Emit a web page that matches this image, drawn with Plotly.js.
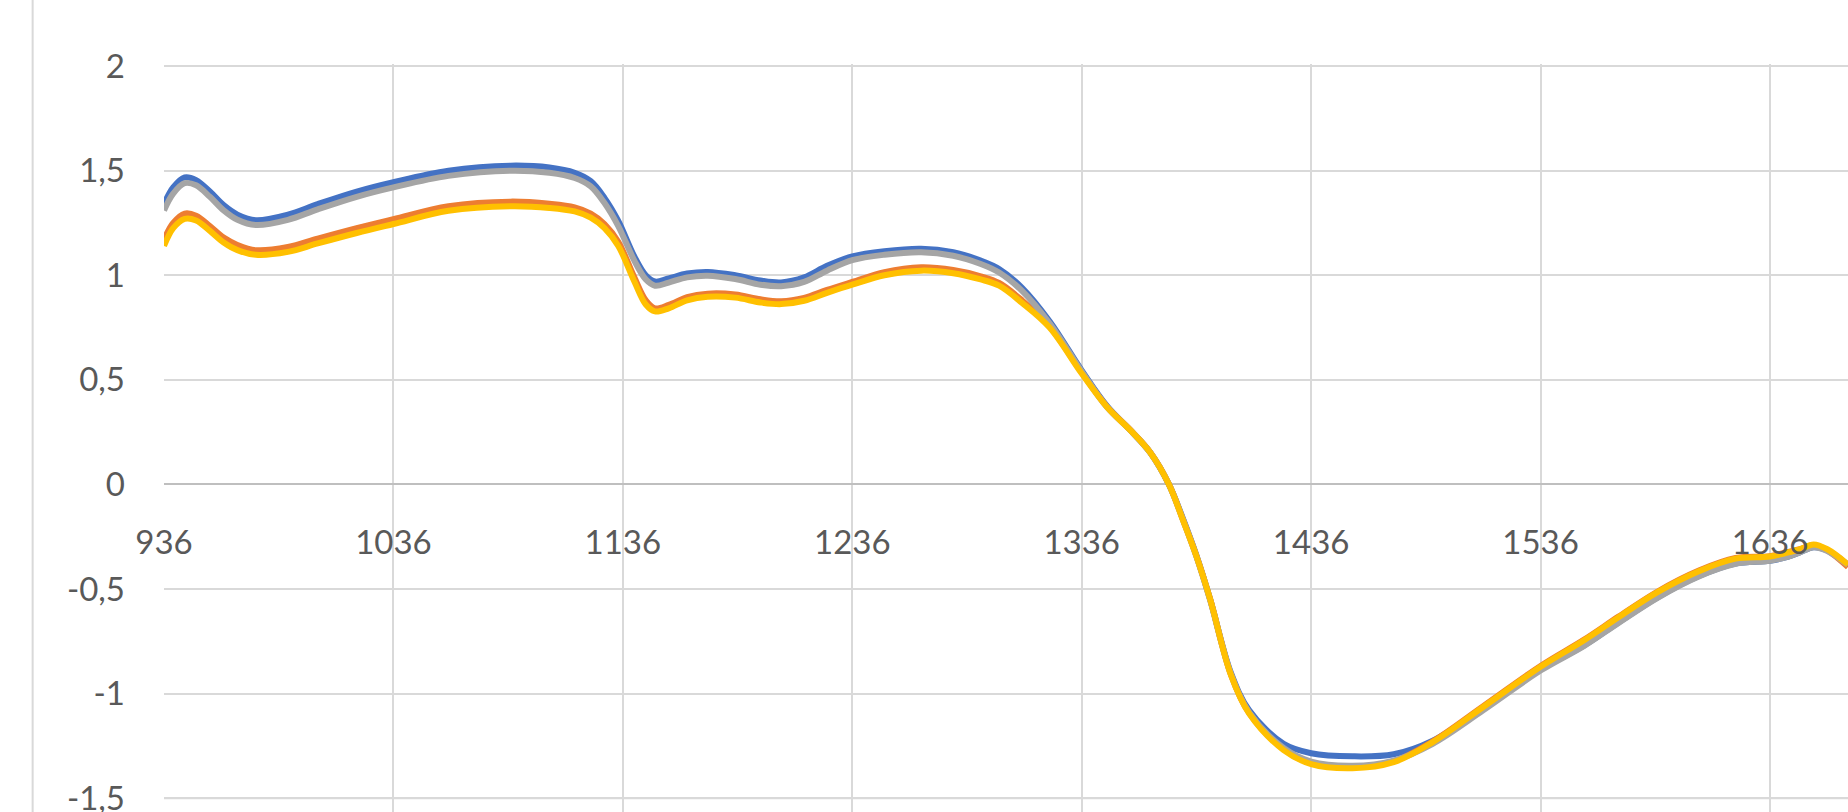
<!DOCTYPE html>
<html>
<head>
<meta charset="utf-8">
<script src="https://cdn.plot.ly/plotly-3.0.1.min.js"></script>
<style>
html,body{margin:0;padding:0;background:#fff;overflow:hidden;width:1848px;height:812px;}
#chart{width:1848px;height:840px;}
</style>
</head>
<body>
<div id="chart"></div>
<script>
const wavelength = [936, 940, 945, 950, 956, 962, 968, 976, 990, 1003, 1020, 1036, 1060, 1087, 1104, 1115, 1122, 1128, 1134, 1141, 1146, 1150, 1156, 1164, 1173, 1185, 1196, 1205, 1215, 1225, 1236, 1250, 1266, 1280, 1292, 1300, 1310, 1322, 1336, 1347, 1358, 1366, 1374, 1380, 1386, 1392, 1401, 1409, 1424, 1436, 1454, 1472, 1489, 1511, 1536, 1555, 1570, 1587, 1605, 1621, 1636, 1644, 1649, 1655, 1661, 1670];

const series1 = [1.34, 1.42, 1.468, 1.455, 1.40, 1.335, 1.29, 1.263, 1.29, 1.34, 1.40, 1.445, 1.50, 1.524, 1.515, 1.49, 1.45, 1.37, 1.26, 1.09, 1.00, 0.97, 0.985, 1.008, 1.016, 1.0, 0.975, 0.966, 0.99, 1.045, 1.09, 1.115, 1.127, 1.11, 1.07, 1.03, 0.94, 0.78, 0.545, 0.375, 0.25, 0.15, 0.0, -0.16, -0.34, -0.55, -0.90, -1.08, -1.24, -1.285, -1.30, -1.29, -1.225, -1.07, -0.885, -0.77, -0.66, -0.54, -0.438, -0.378, -0.365, -0.345, -0.325, -0.30, -0.315, -0.385];

const series2 = [1.17, 1.25, 1.295, 1.285, 1.235, 1.18, 1.145, 1.12, 1.135, 1.175, 1.225, 1.268, 1.33, 1.352, 1.342, 1.325, 1.295, 1.245, 1.16, 0.99, 0.88, 0.842, 0.858, 0.895, 0.912, 0.908, 0.885, 0.876, 0.892, 0.93, 0.968, 1.015, 1.038, 1.025, 0.995, 0.963, 0.88, 0.755, 0.535, 0.372, 0.252, 0.152, 0.002, -0.165, -0.342, -0.55, -0.908, -1.093, -1.265, -1.333, -1.352, -1.323, -1.228, -1.06, -0.868, -0.742, -0.632, -0.512, -0.412, -0.352, -0.343, -0.323, -0.31, -0.29, -0.315, -0.395];

const series3 = [1.31, 1.39, 1.44, 1.43, 1.375, 1.31, 1.265, 1.24, 1.265, 1.315, 1.375, 1.42, 1.475, 1.50, 1.49, 1.465, 1.425, 1.345, 1.235, 1.07, 0.98, 0.95, 0.965, 0.99, 0.998, 0.982, 0.955, 0.948, 0.968, 1.022, 1.072, 1.098, 1.11, 1.093, 1.054, 1.013, 0.925, 0.77, 0.54, 0.37, 0.25, 0.15, 0.0, -0.165, -0.345, -0.555, -0.905, -1.09, -1.26, -1.325, -1.345, -1.32, -1.24, -1.08, -0.89, -0.772, -0.662, -0.542, -0.44, -0.38, -0.365, -0.345, -0.325, -0.30, -0.318, -0.385];

const series4 = [1.14, 1.225, 1.27, 1.262, 1.212, 1.157, 1.12, 1.098, 1.112, 1.152, 1.202, 1.245, 1.308, 1.33, 1.322, 1.305, 1.275, 1.225, 1.14, 0.97, 0.86, 0.827, 0.842, 0.88, 0.897, 0.893, 0.87, 0.862, 0.878, 0.916, 0.955, 1.0, 1.022, 1.01, 0.98, 0.95, 0.868, 0.75, 0.53, 0.37, 0.25, 0.15, 0.0, -0.167, -0.343, -0.55, -0.91, -1.096, -1.27, -1.337, -1.357, -1.328, -1.232, -1.064, -0.872, -0.745, -0.635, -0.515, -0.415, -0.355, -0.345, -0.325, -0.311, -0.287, -0.31, -0.383];

const seriesNames = ['Series1', 'Series2', 'Series3', 'Series4'];
const xTickVals = [936, 1036, 1136, 1236, 1336, 1436, 1536, 1636];
const xTickText = ['936', '1036', '1136', '1236', '1336', '1436', '1536', '1636'];
const yTickVals = [2, 1.5, 1, 0.5, 0, -0.5, -1, -1.5];
const yTickText = ['2', '1,5', '1', '0,5', '0', '-0,5', '-1', '-1,5'];

const colors = ['#4472C4', '#ED7D31', '#A5A5A5', '#FFC000'];
const allSeries = [series1, series2, series3, series4];

const traces = allSeries.map((s, i) => ({
  type: 'scatter',
  mode: 'lines',
  name: seriesNames[i],
  x: wavelength,
  y: s,
  line: {color: colors[i], width: 6, shape: 'spline', smoothing: 1},
  hoverinfo: 'skip'
}));

const yMin = -1.70, yMax = 2.01;
const zeroPos = (0 - yMin) / (yMax - yMin);
const yBottomTick = yTickVals[yTickVals.length - 1];

const layout = {
  width: 1848,
  height: 840,
  margin: {l: 164, r: 0, t: 64, b: 0, pad: 0},
  paper_bgcolor: '#ffffff',
  plot_bgcolor: '#ffffff',
  showlegend: false,
  font: {family: 'Lato, "Open Sans", sans-serif', color: '#595959', size: 33},
  xaxis: {
    range: [936, 1670],
    tickmode: 'array',
    tickvals: xTickVals,
    ticktext: xTickText,
    showgrid: true,
    gridcolor: '#d9d9d9',
    gridwidth: 2,
    zeroline: false,
    showline: false,
    anchor: 'free',
    position: zeroPos,
    ticks: '',
    ticklabelstandoff: 36,
    ticklabeloverflow: 'allow',
    tickfont: {family: 'Lato, "Open Sans", sans-serif', color: '#595959', size: 33},
    fixedrange: true
  },
  yaxis: {
    range: [yMin, yMax],
    tickmode: 'array',
    tickvals: yTickVals,
    ticktext: yTickText,
    showgrid: true,
    gridcolor: '#d9d9d9',
    gridwidth: 2,
    zeroline: true,
    zerolinecolor: '#bfbfbf',
    zerolinewidth: 2,
    showline: false,
    ticks: '',
    ticklabelstandoff: 38,
    ticklabeloverflow: 'allow',
    tickfont: {family: 'Lato, "Open Sans", sans-serif', color: '#595959', size: 33},
    fixedrange: true
  },
  shapes: [
    {type: 'line', xref: 'paper', yref: 'paper', x0: -0.078, x1: -0.078, y0: -0.05, y1: 1.1,
     line: {color: '#d9d9d9', width: 2}},
    {type: 'line', xref: 'paper', yref: 'y', x0: 0, x1: 1, y0: yBottomTick, y1: yBottomTick,
     layer: 'above', line: {color: '#d9d9d9', width: 2}}
  ]
};

Plotly.newPlot('chart', traces, layout, {displayModeBar: false, staticPlot: true});
</script>
</body>
</html>
